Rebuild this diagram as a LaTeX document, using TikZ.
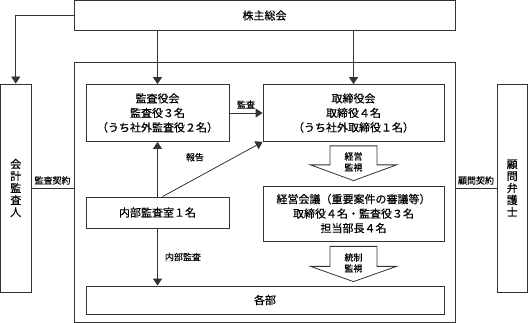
\documentclass[tikz,border=0pt]{standalone}
\usepackage{fontspec}
\setmainfont{Noto Sans CJK JP}[FakeBold=0.4]
\usetikzlibrary{arrows.meta, positioning, calc}
\definecolor{ink}{HTML}{333333}

\tikzset{
  box/.style={draw=ink, line width=0.8pt, align=center, inner sep=0pt, font=\fontsize{11}{14.5}\selectfont},
  tate/.style={box, minimum width=30.5pt, minimum height=208pt, font=\fontsize{11}{12}\selectfont},
  lbl/.style={inner sep=1pt, font=\fontsize{9}{11}\selectfont},
  arr/.style={draw=ink, line width=0.8pt, -{Triangle[width=9pt,length=7pt]}},
  blk/.style={draw=ink, line width=0.8pt, fill=white},
}

\begin{document}
\begin{tikzpicture}[x=1pt, y=-1pt]
\useasboundingbox (0,0) rectangle (528,323);

% outer frame
\node[draw=ink, line width=0.8pt, minimum width=381pt, minimum height=260pt] (group) at (264.5,192) {};

\node[box, minimum width=381pt, minimum height=30pt] (soukai) at (264.5,15.5) {株主総会};
\node[tate] (kaikei) at (15.75,188) {会\\計\\監\\査\\人};
\node[tate] (komon) at (512.25,188) {顧\\問\\弁\\護\\士};

\node[box, minimum width=143pt, minimum height=57pt] (kansa) at (157.5,113) {監査役会\\監査役３名\\（うち社外監査役２名）};
\node[box, minimum width=181pt, minimum height=57pt] (tori) at (353.5,113) {取締役会\\取締役４名\\（うち社外取締役１名）};
\node[box, minimum width=143pt, minimum height=31pt] (naibu) at (157.5,212.5) {内部監査室１名};
\node[box, minimum width=181pt, minimum height=55pt] (keiei) at (353.5,213.5) {経営会議（重要案件の審議等）\\取締役４名・監査役３名\\担当部長４名};
\node[box, minimum width=358pt, minimum height=28pt] (kakubu) at (265,300) {各部};

% contracts
\draw[draw=ink, line width=0.8pt] (kaikei.east) -- (kaikei.east -| group.west) node[midway, above=2pt, lbl] {監査契約};
\draw[draw=ink, line width=0.8pt] (group.east |- komon.west) -- (komon.west) node[midway, above=2pt, lbl] {顧問契約};

% arrows
\draw[arr] (soukai.west) -| (kaikei.north);
\draw[arr] (soukai.south -| kansa.north) -- (kansa.north);
\draw[arr] (soukai.south -| tori.north) -- (tori.north);
\draw[arr] (kansa.east) -- (tori.west) node[midway, above=3pt, lbl] {監査};
\draw[arr] (naibu.north) -- (kansa.south) node[pos=0.72, right=27pt, lbl] {報告};
\draw[arr] ([xshift=5pt]naibu.north) -- (tori.south west);
\draw[arr] (naibu.south) -- (naibu.south |- kakubu.north) node[midway, right=6pt, lbl] {内部監査};

% block arrows
\draw[blk] ($(tori.south)+(-23.5,4)$) -- ++(47,0) -- ++(0,19) -- ++(19.5,0)
  -- ($(keiei.north)+(0,-5)$) -- ($(tori.south)+(-43,23)$) -- ++(19.5,0) -- cycle;
\node[lbl, align=center, font=\fontsize{9}{11}\selectfont] (kanshiA) at ($(tori.south)+(0,20)$) {経営\\監視};

\draw[blk] ($(keiei.south)+(-23.5,5)$) -- ++(47,0) -- ++(0,20) -- ++(19.5,0)
  -- ($(keiei.south |- kakubu.north)+(0,-4)$) -- ($(keiei.south)+(-43,25)$) -- ++(19.5,0) -- cycle;
\node[lbl, align=center, font=\fontsize{9}{11}\selectfont] (kanshiB) at ($(keiei.south)+(0,21.5)$) {統制\\監視};
\end{tikzpicture}
\end{document}
